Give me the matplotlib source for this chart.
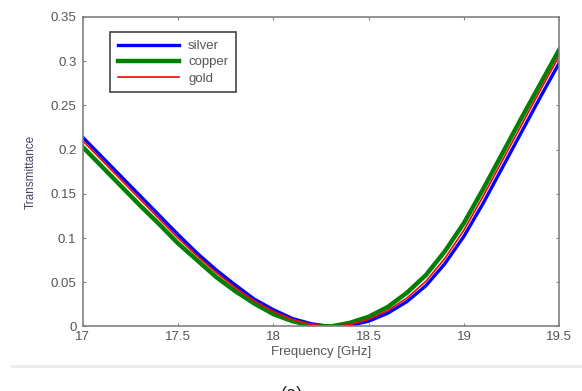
import matplotlib.pyplot as plt

# values
freq = [17.0, 17.1, 17.2, 17.3, 17.4, 17.5, 17.6, 17.7, 17.8, 17.9,
        18.0, 18.1, 18.2, 18.3, 18.4, 18.5, 18.6, 18.7, 18.8, 18.9,
        19.0, 19.1, 19.2, 19.3, 19.4, 19.5]

silver = [0.214, 0.192, 0.170, 0.148, 0.126, 0.104, 0.083, 0.064, 0.047, 0.031,
          0.019, 0.009, 0.003, 0.000, 0.001, 0.006, 0.015, 0.028, 0.046, 0.071,
          0.102, 0.139, 0.179, 0.219, 0.259, 0.298]
copper = [0.203, 0.181, 0.159, 0.137, 0.116, 0.094, 0.075, 0.056, 0.040, 0.026,
          0.014, 0.006, 0.001, 0.000, 0.004, 0.011, 0.022, 0.038, 0.058, 0.085,
          0.117, 0.155, 0.195, 0.235, 0.274, 0.313]
gold = [0.210, 0.188, 0.166, 0.144, 0.122, 0.100, 0.080, 0.061, 0.044, 0.029,
        0.017, 0.008, 0.002, 0.000, 0.002, 0.008, 0.018, 0.032, 0.051, 0.077,
        0.109, 0.147, 0.187, 0.227, 0.267, 0.306]

xticks = [17, 17.5, 18, 18.5, 19, 19.5]
xticklabels = ['17', '17.5', '18', '18.5', '19', '19.5']
yticks = [0, 0.05, 0.1, 0.15, 0.2, 0.25, 0.3, 0.35]
yticklabels = ['0', '0.05', '0.1', '0.15', '0.2', '0.25', '0.3', '0.35']

plt.rcParams['font.family'] = ['Liberation Sans', 'DejaVu Sans']

fig = plt.figure(figsize=(5.82, 3.91), dpi=100)
ax = fig.add_axes([0.142, 0.165, 0.819, 0.792])

ax.plot(freq, silver, color='#0000ff', lw=2.4, label='silver')
ax.plot(freq, copper, color='#008000', lw=3.2, label='copper')
ax.plot(freq, gold, color='#ff0000', lw=1.2, label='gold')

ax.set_xlim(17, 19.5)
ax.set_ylim(0, 0.35)
ax.set_xticks(xticks)
ax.set_xticklabels(xticklabels)
ax.set_yticks(yticks)
ax.set_yticklabels(yticklabels)

for s in ax.spines.values():
    s.set_color('#808080')
    s.set_linewidth(1.2)
ax.tick_params(direction='in', length=2.5, width=0.8, color='#808080',
               labelsize=9.5, labelcolor='#555555', top=True, right=True)
ax.tick_params(axis='y', pad=4.5)
ax.tick_params(axis='x', pad=3.5)

ax.set_xlabel('Frequency [GHz]', fontsize=9.5, color='#555555', labelpad=2)
ax.set_ylabel('Transmittance', fontsize=8.5, color='#444466', labelpad=10)

leg = ax.legend(loc='upper left', bbox_to_anchor=(0.058, 0.951), borderaxespad=0,
                fancybox=False, framealpha=1, edgecolor='#444444', fontsize=9.5,
                handlelength=4.6, handletextpad=0.7, labelspacing=0.3,
                borderpad=0.6)
leg.get_frame().set_linewidth(1.2)
for t in leg.get_texts():
    t.set_color('#555555')

# separator line and the cut-off caption under the figure
fig.add_artist(plt.Line2D([0.02, 1.0], [0.065, 0.065], transform=fig.transFigure,
                          color='#ebebeb', lw=2))
fig.text(0.502, -0.008, '(a)', ha='center', va='center', fontsize=13, color='#222222')

fig.savefig('out.png', dpi=100)
